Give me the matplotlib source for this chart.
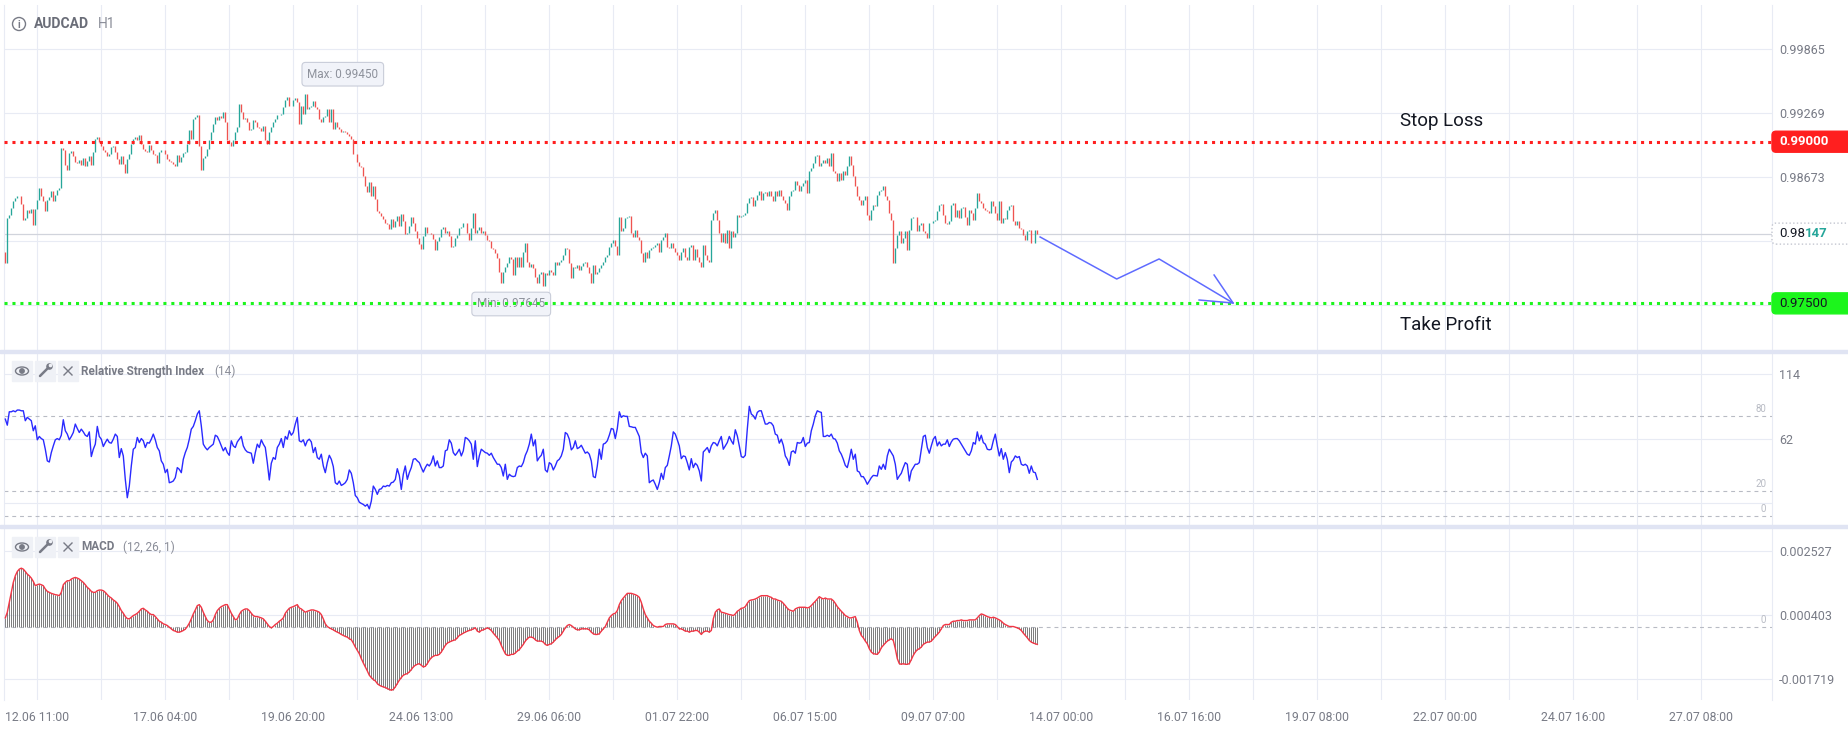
import numpy as np
import matplotlib
matplotlib.use("Agg")
import matplotlib.pyplot as plt
from matplotlib.patches import FancyBboxPatch, Rectangle, Circle, Ellipse
from matplotlib.lines import Line2D
from matplotlib.transforms import IdentityTransform

plt.rcParams['font.family'] = ['Roboto', 'DejaVu Sans']

# ---------------- data ----------------
symbol = "AUDCAD"
timeframe = "H1"
rsi_title = "Relative Strength Index"
rsi_params = "(14)"
macd_title = "MACD"
macd_params = "(12, 26, 1)"

first_open = 0.97978
closes = [
    0.97872, 0.98290, 0.98321, 0.98384, 0.98446, 0.98477, 0.98492, 0.98498, 0.98424, 0.98269,
    0.98290, 0.98368, 0.98337, 0.98374, 0.98229, 0.98374, 0.98461, 0.98570, 0.98492, 0.98446,
    0.98353, 0.98461, 0.98486, 0.98539, 0.98446, 0.98508, 0.98548, 0.98566, 0.98942, 0.98920,
    0.98787, 0.98740, 0.98895, 0.98911, 0.98864, 0.98808, 0.98802, 0.98827, 0.98780, 0.98849,
    0.98777, 0.98818, 0.98864, 0.98787, 0.98901, 0.99025, 0.99044, 0.98994, 0.98963, 0.98920,
    0.98901, 0.98870, 0.98889, 0.98951, 0.98963, 0.98901, 0.98839, 0.98796, 0.98870, 0.98793,
    0.98709, 0.98839, 0.98889, 0.98979, 0.99025, 0.99047, 0.99013, 0.99059, 0.98982, 0.98932,
    0.98917, 0.98901, 0.98966, 0.98920, 0.98889, 0.98880, 0.98802, 0.98901, 0.98920, 0.98926,
    0.98886, 0.98839, 0.98821, 0.98808, 0.98796, 0.98777, 0.98873, 0.98811, 0.98858, 0.98892,
    0.98907, 0.98982, 0.99106, 0.99025, 0.99214, 0.99230, 0.99248, 0.98957, 0.98740, 0.98845,
    0.98870, 0.98932, 0.99013, 0.99093, 0.99168, 0.99230, 0.99199, 0.99242, 0.99217, 0.99273,
    0.99180, 0.99013, 0.98994, 0.98963, 0.99013, 0.99087, 0.99137, 0.99354, 0.99273, 0.99211,
    0.99217, 0.99180, 0.99106, 0.99118, 0.99199, 0.99180, 0.99137, 0.99131, 0.99103, 0.99149,
    0.99013, 0.98982, 0.99087, 0.99137, 0.99183, 0.99214, 0.99245, 0.99248, 0.99261, 0.99323,
    0.99385, 0.99416, 0.99335, 0.99329, 0.99385, 0.99403, 0.99366, 0.99168, 0.99335, 0.99261,
    0.99441, 0.99304, 0.99323, 0.99335, 0.99382, 0.99323, 0.99304, 0.99211, 0.99180, 0.99230,
    0.99236, 0.99304, 0.99180, 0.99304, 0.99118, 0.99180, 0.99134, 0.99118, 0.99087, 0.99103,
    0.99087, 0.99072, 0.99056, 0.99025, 0.98889, 0.98886, 0.98808, 0.98777, 0.98762, 0.98684,
    0.98591, 0.98529, 0.98622, 0.98498, 0.98585, 0.98467, 0.98359, 0.98343, 0.98312, 0.98281,
    0.98250, 0.98235, 0.98188, 0.98281, 0.98204, 0.98260, 0.98312, 0.98219, 0.98331, 0.98266,
    0.98142, 0.98157, 0.98222, 0.98300, 0.98250, 0.98173, 0.98111, 0.98049, 0.98002, 0.98126,
    0.98207, 0.98157, 0.98151, 0.98142, 0.98095, 0.97996, 0.98083, 0.98114, 0.98191, 0.98207,
    0.98157, 0.98173, 0.98126, 0.98027, 0.98033, 0.98105, 0.98136, 0.98198, 0.98213, 0.98244,
    0.98250, 0.98151, 0.98089, 0.98198, 0.98337, 0.98151, 0.98182, 0.98213, 0.98151, 0.98173,
    0.98136, 0.98089, 0.98083, 0.98012, 0.98002, 0.97965, 0.97919, 0.97795, 0.97686, 0.97795,
    0.97841, 0.97872, 0.97934, 0.97909, 0.97764, 0.97934, 0.97841, 0.97934, 0.97841, 0.97981,
    0.98058, 0.97888, 0.97841, 0.97866, 0.97826, 0.97748, 0.97686, 0.97773, 0.97795, 0.97661,
    0.97779, 0.97764, 0.97810, 0.97795, 0.97764, 0.97888, 0.97857, 0.97888, 0.97903, 0.97950,
    0.98012, 0.98002, 0.97872, 0.97733, 0.97841, 0.97826, 0.97857, 0.97810, 0.97847, 0.97872,
    0.97888, 0.97841, 0.97779, 0.97686, 0.97857, 0.97773, 0.97795, 0.97826, 0.97857, 0.97888,
    0.97934, 0.97950, 0.98027, 0.98058, 0.98089, 0.98033, 0.97950, 0.98306, 0.98167, 0.98198,
    0.98291, 0.98306, 0.98312, 0.98151, 0.98120, 0.98182, 0.98120, 0.98089, 0.97965, 0.97888,
    0.97981, 0.97919, 0.97996, 0.98012, 0.98027, 0.98043, 0.98058, 0.97981, 0.98089, 0.98120,
    0.98151, 0.98027, 0.98012, 0.98058, 0.98012, 0.97981, 0.97950, 0.97903, 0.97981, 0.98012,
    0.97934, 0.97903, 0.98027, 0.98043, 0.97903, 0.98002, 0.97934, 0.97888, 0.97841, 0.98043,
    0.97950, 0.97903, 0.97888, 0.98275, 0.98337, 0.98368, 0.98275, 0.98151, 0.98074, 0.98151,
    0.98058, 0.98182, 0.98012, 0.98167, 0.98120, 0.98151, 0.98321, 0.98306, 0.98312, 0.98321,
    0.98337, 0.98430, 0.98477, 0.98483, 0.98399, 0.98461, 0.98508, 0.98539, 0.98461, 0.98523,
    0.98529, 0.98492, 0.98539, 0.98492, 0.98446, 0.98539, 0.98492, 0.98554, 0.98492, 0.98461,
    0.98430, 0.98368, 0.98492, 0.98539, 0.98554, 0.98631, 0.98601, 0.98539, 0.98585, 0.98616,
    0.98647, 0.98523, 0.98724, 0.98755, 0.98802, 0.98864, 0.98880, 0.98771, 0.98802, 0.98833,
    0.98802, 0.98849, 0.98771, 0.98895, 0.98724, 0.98709, 0.98631, 0.98709, 0.98647, 0.98724,
    0.98694, 0.98771, 0.98864, 0.98787, 0.98678, 0.98585, 0.98492, 0.98461, 0.98415, 0.98461,
    0.98492, 0.98321, 0.98275, 0.98368, 0.98415, 0.98399, 0.98508, 0.98539, 0.98554, 0.98585,
    0.98492, 0.98461, 0.98337, 0.98275, 0.97872, 0.98012, 0.98136, 0.98167, 0.98058, 0.98105,
    0.98167, 0.97996, 0.98182, 0.98291, 0.98300, 0.98306, 0.98167, 0.98229, 0.98244, 0.98167,
    0.98151, 0.98105, 0.98244, 0.98250, 0.98260, 0.98269, 0.98353, 0.98415, 0.98424, 0.98321,
    0.98244, 0.98238, 0.98260, 0.98415, 0.98430, 0.98306, 0.98368, 0.98291, 0.98384, 0.98393,
    0.98306, 0.98229, 0.98368, 0.98337, 0.98275, 0.98384, 0.98523, 0.98446, 0.98430, 0.98384,
    0.98368, 0.98353, 0.98337, 0.98446, 0.98399, 0.98337, 0.98275, 0.98446, 0.98244, 0.98291,
    0.98281, 0.98368, 0.98399, 0.98415, 0.98260, 0.98229, 0.98260, 0.98198, 0.98188, 0.98136,
    0.98089, 0.98167, 0.98182, 0.98058, 0.98064, 0.98182, 0.98147,
]

rsi_values = [
    77.9, 73.0, 83.8, 83.8, 84.6, 83.8, 85.2, 85.2, 84.6, 84.6,
    76.6, 79.3, 77.9, 76.6, 68.5, 72.5, 61.2, 63.9, 62.2, 61.2,
    53.6, 44.2, 43.3, 50.9, 56.3, 61.2, 62.2, 61.2, 64.9, 77.4,
    68.5, 65.8, 61.2, 63.9, 67.1, 73.9, 70.3, 67.1, 69.8, 67.6,
    64.9, 63.9, 67.6, 47.7, 53.6, 57.7, 72.0, 63.9, 61.7, 55.8,
    59.0, 61.7, 59.0, 58.5, 61.7, 65.8, 63.9, 46.9, 54.1, 48.2,
    29.3, 14.5, 23.9, 40.1, 53.6, 55.0, 63.1, 59.0, 62.2, 60.4,
    55.0, 59.0, 58.5, 61.7, 65.8, 61.2, 55.0, 52.3, 44.2, 41.5,
    34.7, 37.4, 26.6, 27.1, 28.0, 30.7, 38.8, 37.4, 34.7, 45.5,
    50.9, 55.0, 61.7, 69.8, 72.0, 76.6, 82.0, 84.6, 72.5, 57.7,
    55.0, 53.1, 55.0, 56.3, 57.7, 64.9, 63.9, 60.4, 56.3, 52.3,
    55.0, 50.9, 48.7, 60.4, 56.3, 55.0, 59.5, 61.7, 63.9, 56.3,
    53.1, 51.4, 50.9, 50.4, 42.3, 50.9, 57.7, 55.0, 61.2, 57.7,
    55.0, 42.8, 28.8, 42.3, 46.9, 45.5, 55.0, 57.7, 62.2, 55.0,
    63.9, 61.7, 68.5, 64.9, 67.1, 73.9, 79.3, 60.4, 59.5, 61.2,
    56.3, 60.4, 61.7, 59.5, 50.9, 55.0, 46.9, 45.5, 49.6, 40.1,
    34.7, 42.8, 48.7, 45.5, 39.6, 26.6, 25.3, 28.0, 24.4, 25.3,
    26.6, 29.3, 36.9, 34.2, 26.6, 16.3, 14.5, 10.9, 9.9, 9.1,
    7.7, 9.1, 5.5, 11.7, 23.9, 21.2, 17.2, 21.2, 21.7, 23.9,
    23.4, 24.4, 23.9, 26.6, 27.1, 29.3, 37.9, 32.5, 21.2, 33.4,
    40.1, 29.3, 34.7, 38.8, 45.5, 46.0, 44.2, 42.8, 38.8, 35.2,
    38.8, 41.5, 40.1, 42.8, 48.2, 40.1, 44.2, 38.8, 38.8, 40.1,
    52.3, 53.1, 61.2, 58.5, 50.9, 48.7, 50.9, 53.6, 48.2, 52.3,
    63.1, 62.2, 60.4, 57.7, 45.5, 60.4, 39.6, 48.2, 53.6, 52.3,
    50.9, 50.4, 48.7, 50.4, 46.9, 44.2, 41.5, 41.5, 38.8, 32.0,
    41.5, 29.3, 33.4, 32.0, 31.5, 32.0, 38.8, 40.1,
    39.6, 42.8, 48.7, 52.3, 57.7, 65.8, 56.3, 61.2, 44.2, 46.9,
    48.7, 53.6, 36.9, 35.2, 42.8, 41.5, 36.9, 40.1, 44.2, 45.5,
    48.2, 53.6, 67.1, 65.8, 61.7, 53.1, 55.0, 60.4, 54.1, 55.0,
    56.8, 53.6, 50.4, 51.4, 49.6, 44.2, 31.5, 30.7, 40.1, 53.6,
    45.5, 57.7, 58.5, 60.4, 64.9, 70.3, 69.8, 62.2, 70.3, 83.8,
    79.3, 80.6, 80.1, 80.1, 72.0, 71.7, 71.2, 71.2, 67.6, 63.9,
    50.9, 46.9, 50.4, 48.2, 26.6, 28.0, 28.8, 25.3, 21.2, 26.6,
    34.2, 29.3, 38.8, 40.6, 48.2, 56.3, 67.6, 65.8, 61.2, 56.3,
    46.0, 48.2, 47.7, 42.8, 36.9, 46.0, 38.8, 42.3, 40.6, 36.1,
    28.0, 51.4, 53.1, 55.0, 50.9, 56.3, 59.0, 58.5, 56.3, 60.4,
    63.9, 53.6, 56.3, 59.0, 63.9, 60.4, 57.7, 69.3, 64.4, 56.3,
    47.7, 46.9, 48.7, 69.8, 88.2, 82.0, 80.6, 77.9, 83.3, 84.6,
    84.6, 79.3, 73.9, 73.9, 75.2, 74.7, 72.5, 65.8, 64.9, 58.5,
    61.7, 56.8, 48.2, 45.5, 40.6, 51.4, 52.3, 50.4, 59.0, 58.5,
    59.0, 63.1, 55.8, 58.5, 59.0, 68.5, 73.9, 80.6, 84.6, 83.8,
    83.3, 63.9, 63.9, 64.9, 63.9, 65.8, 62.2, 61.7, 58.5, 52.3,
    49.6, 45.5, 40.6, 38.8, 45.5, 53.6, 45.5, 49.6, 36.1, 35.2,
    31.5, 31.5, 28.8, 25.3, 28.0, 30.7, 32.5, 32.3, 32.0, 40.1,
    37.4, 41.5, 37.4, 48.2, 53.6, 50.9, 48.2, 41.5, 29.3, 32.0,
    34.2, 38.8, 42.8, 41.5, 28.0, 36.1, 38.8, 41.5, 41.5, 42.8,
    53.6, 63.9, 64.9, 55.0, 50.4, 56.3, 61.7, 63.9, 56.3, 59.5,
    56.3, 57.7, 57.7, 61.2, 55.8, 59.5, 61.7, 62.2, 62.2, 60.4,
    57.7, 55.0, 52.3, 49.6, 48.7, 52.3, 59.0, 57.7, 67.6, 60.4,
    64.9, 59.0, 57.7, 53.6, 53.1, 53.6, 60.4, 65.8, 56.3, 48.2,
    54.1, 45.5, 50.9, 45.5, 34.7, 43.3, 45.0, 48.2, 46.9, 47.7,
    41.5, 40.6, 41.5, 40.1, 34.2, 40.1, 35.2, 34.7, 29.3,
]

# MACD values in millionths (1e-6)
macd_micro = [
    308, 495, 825, 1155, 1485, 1705, 1848, 1925, 1958, 1925,
    1848, 1760, 1705, 1628, 1518, 1375, 1408, 1430, 1408, 1375,
    1265, 1188, 1155, 1122, 1100, 1078, 1067, 1045, 1155, 1408,
    1485, 1540, 1540, 1595, 1628, 1650, 1628, 1595, 1540, 1485,
    1408, 1320, 1265, 1188, 1155, 1155, 1210, 1232, 1232, 1210,
    1155, 1078, 1012, 968, 902, 858, 792, 682, 550, 462,
    352, 286, 275, 330, 385, 418, 462, 528, 605, 627,
    572, 528, 462, 418, 418, 352, 275, 198, 165, 110,
    88, 55, 0, -55, -110, -132, -165, -165, -143, -110,
    -66, 22, 132, 275, 440, 572, 715, 748, 660, 495,
    352, 220, 165, 165, 242, 418, 550, 627, 682, 715,
    748, 748, 605, 462, 352, 242, 275, 418, 528, 572,
    605, 605, 550, 462, 385, 352, 352, 330, 308, 275,
    198, 110, 22, -22, 22, 88, 132, 198, 242, 308,
    462, 550, 627, 660, 682, 715, 748, 638, 605, 550,
    495, 528, 550, 572, 572, 550, 528, 495, 418, 275,
    110, 22, -22, -55, -88, -132, -165, -198, -242, -275,
    -308, -330, -385, -418, -528, -660, -770, -880, -1045, -1188,
    -1320, -1452, -1595, -1672, -1738, -1782, -1870, -1925, -1958, -1980,
    -2002, -2035, -2068, -2090, -2068, -1980, -1870, -1760, -1672, -1595,
    -1562, -1540, -1485, -1408, -1320, -1265, -1232, -1210, -1265, -1320,
    -1298, -1210, -1100, -1012, -968, -935, -935, -902, -825, -715,
    -605, -528, -495, -462, -440, -418, -352, -275, -242, -198,
    -165, -132, -110, -88, -55, -22, -132, -165, -110, -88,
    -55, -22, -55, -110, -198, -275, -352, -440, -605, -748,
    -880, -935, -935, -902, -902, -858, -792, -748,
    -660, -572, -462, -385, -330, -330, -352, -418, -462, -462,
    -462, -495, -572, -605, -572, -550, -495, -418, -352, -308,
    -242, -132, -22, 55, 88, 55, 0, -55, -88, -88,
    -55, -55, -55, -55, -88, -165, -220, -242, -242, -220,
    -132, -55, 22, 165, 308, 385, 440, 462, 550, 748,
    880, 968, 1045, 1122, 1122, 1122, 1100, 1078, 1045, 990,
    825, 605, 418, 308, 198, 132, 55, 22, 0, 22,
    22, 22, 88, 110, 110, 110, 110, 88, 22, -55,
    -55, -88, -132, -132, -165, -132, -132, -110, -110, -165,
    -242, -165, -132, -132, -165, -110, 275, 495, 572, 605,
    495, 484, 462, 440, 418, 407, 385, 440, 528, 572,
    627, 638, 682, 792, 880, 902, 913, 935, 968, 1012,
    1045, 1045, 1045, 1045, 1012, 990, 935, 935, 902, 880,
    858, 792, 715, 627, 572, 550, 528, 605, 638, 660,
    660, 660, 660, 638, 660, 715, 792, 858, 935, 1012,
    968, 935, 968, 935, 935, 935, 880, 792, 682, 605,
    528, 462, 385, 352, 308, 308, 330, 352, 165, -110,
    -275, -352, -462, -550, -715, -825, -880, -891, -902, -825,
    -682, -605, -528, -462, -418, -385, -440, -715, -1045, -1210,
    -1232, -1210, -1232, -1232, -1210, -1078, -935, -825, -748, -715,
    -660, -572, -528, -495, -495, -462, -385, -308, -242, -165,
    -55, 55, 88, 88, 88, 165, 198, 198, 220, 220,
    242, 220, 220, 220, 242, 242, 242, 242, 308, 385,
    440, 418, 385, 352, 330, 308, 330, 308, 275, 242,
    198, 132, 88, 55, 22, 22, 22, 0, -22, -55,
    -110, -198, -275, -352, -440, -495, -528, -550, -572,
]

price_ticks = [0.99865, 0.99269, 0.98673, 0.98077, 0.97481]
price_tick_labels = ["0.99865", "0.99269", "0.98673", "", ""]   # last two sit under the price tags
rsi_ticks = [114, 62, 10]
rsi_tick_labels = ["114", "62", ""]
rsi_levels = [80, 20, 0]
macd_ticks = [0.002527, 0.000403, -0.001719]
macd_levels = [0]
time_labels = ["12.06 11:00", "17.06 04:00", "19.06 20:00", "24.06 13:00",
               "29.06 06:00", "01.07 22:00", "06.07 15:00", "09.07 07:00",
               "14.07 00:00", "16.07 16:00", "19.07 08:00", "22.07 00:00",
               "24.07 16:00", "27.07 08:00"]
label_bars = [16, 80, 144, 208, 272, 336, 400, 464, 528, 592, 656, 720, 784, 848]

stop_loss = 0.99000
take_profit = 0.97500
last_price = 0.98147
max_label = "Max: 0.99450"
min_label = "Min: 0.97645"
forecast_bars = [517.4, 555.7, 576.9, 613.9]
forecast_prices = [0.98116, 0.97726, 0.97912, 0.97503]
wing_bars = [604.4, 596.9]
wing_prices = [0.97763, 0.97531]

# ---------------- layout ----------------
W, H = 1848, 729
fig = plt.figure(figsize=(W / 100, H / 100), dpi=100)
fig.patch.set_facecolor("white")
ident = IdentityTransform()


def frac_rect(x0, y0, x1, y1):
    return [x0 / W, 1 - y1 / H, (x1 - x0) / W, (y1 - y0) / H]


ax_p = fig.add_axes(frac_rect(4, 5, 1772, 350))
ax_r = fig.add_axes(frac_rect(4, 353, 1772, 525))
ax_m = fig.add_axes(frac_rect(4, 528, 1772, 700))

GRID = "#e8ebf4"
AXT = "#787b86"
N = min(len(closes), len(rsi_values), len(macd_micro))
x = np.arange(N)
grid_bars = list(range(label_bars[0], label_bars[-1] + 1, 32))

for ax in (ax_p, ax_r, ax_m):
    ax.set_xlim(-0.65, 883.35)
    ax.set_facecolor("white")
    for s in ("top", "bottom"):
        ax.spines[s].set_visible(False)
    for s in ("left", "right"):
        ax.spines[s].set_color(GRID)
        ax.spines[s].set_linewidth(0.8)
    ax.yaxis.tick_right()
    ax.tick_params(axis="y", length=0, pad=5, labelsize=9, labelcolor=AXT)
    ax.tick_params(axis="x", length=0)
    ax.set_xticks([])
    for b in grid_bars:
        ax.axvline(b, color=GRID, lw=0.8, zorder=0)

# ---------------- price panel ----------------
ax_p.set_ylim(0.97067, 1.00269)
ax_p.set_yticks(price_ticks)
ax_p.set_yticklabels(price_tick_labels)
for v in price_ticks:
    ax_p.axhline(v, color=GRID, lw=0.8, zorder=0)

c = np.array(closes[:N])
o = np.concatenate([[first_open], c[:-1]])
up = c >= o
lo = np.minimum(o, c)
hi = np.maximum(o, c)
extra = np.maximum(0, 0.00004 - (hi - lo)) / 2
lo = lo - extra
hi = hi + extra
ax_p.vlines(x[up], lo[up], hi[up], color="#26a69a", lw=0.95, zorder=3)
ax_p.vlines(x[~up], lo[~up], hi[~up], color="#ef5350", lw=0.95, zorder=3)

ax_p.axhline(last_price, color="#d1d4dc", lw=0.9, zorder=1)
ax_p.axhline(stop_loss, color="#ff1f1f", lw=2.2, ls=(0, (1, 1.6)), zorder=4)
ax_p.axhline(take_profit, color="#1cf51c", lw=2.2, ls=(0, (1, 1.6)), zorder=4)

imax = int(np.argmax(hi))
imin = int(np.argmin(lo))
bubble = dict(boxstyle="round,pad=0.45,rounding_size=0.3", fc="#f1f3f9", ec="#c9cdd9", lw=0.8)
ax_p.annotate(max_label, xy=(imax, hi[imax]), xytext=(2, 20), textcoords="offset pixels",
              ha="left", va="center", fontsize=8.5, color="#8e929c", bbox=bubble, zorder=5)
ax_p.annotate(min_label, xy=(imin, lo[imin]), xytext=(2, -18), textcoords="offset pixels",
              ha="right", va="center", fontsize=8.5, color="#8e929c", bbox=bubble, zorder=2)

ax_p.plot(forecast_bars, forecast_prices, color="#5f6bff", lw=1.1, zorder=4)
ax_p.plot([wing_bars[0], forecast_bars[-1], wing_bars[1]],
          [wing_prices[0], forecast_prices[-1], wing_prices[1]], color="#5f6bff", lw=1.1, zorder=4)

text_bar = 697.4
ax_p.annotate("Stop Loss", xy=(text_bar, stop_loss), xytext=(0, 21), textcoords="offset pixels",
              ha="left", va="center", fontsize=13.5, color="#131722")
ax_p.annotate("Take Profit", xy=(text_bar, take_profit), xytext=(0, -22), textcoords="offset pixels",
              ha="left", va="center", fontsize=13.5, color="#131722")

# ---------------- RSI panel ----------------
ax_r.set_ylim(-7.5, 131.2)
ax_r.set_yticks(rsi_ticks)
ax_r.set_yticklabels(rsi_tick_labels)
for v in rsi_ticks:
    ax_r.axhline(v, color=GRID, lw=0.8, zorder=0)
for lv in rsi_levels:
    ax_r.axhline(lv, color="#b8bbc4", lw=0.8, ls=(0, (3.5, 3.5)), zorder=1)
    ax_r.annotate(str(lv), xy=(1, lv), xycoords=("axes fraction", "data"), xytext=(-6, 7),
                  textcoords="offset pixels", ha="right", va="center", fontsize=7, color="#b8bbc4")
ax_r.plot(x, np.array(rsi_values[:N]), color="#2a2aff", lw=1.0, zorder=3)

# ---------------- MACD panel ----------------
macd = np.array(macd_micro[:N]) * 1e-6
ax_m.set_ylim(-0.002416, 0.003290)
ax_m.set_yticks(macd_ticks)
ax_m.set_yticklabels([f"{v:.6f}" for v in macd_ticks])
for v in macd_ticks:
    ax_m.axhline(v, color=GRID, lw=0.8, zorder=0)
for lv in macd_levels:
    ax_m.axhline(lv, color="#b8bbc4", lw=0.8, ls=(0, (3.5, 3.5)), zorder=1)
    ax_m.annotate(str(lv), xy=(1, lv), xycoords=("axes fraction", "data"), xytext=(-6, 7),
                  textcoords="offset pixels", ha="right", va="center", fontsize=7, color="#b8bbc4")
ax_m.vlines(x, 0, macd, color="#7b7b7b", lw=0.7, zorder=2)
ax_m.plot(x, macd, color="#f23645", lw=1.0, zorder=3)
ax_m.set_xticks(label_bars)
ax_m.set_xticklabels(time_labels, fontsize=8.8, color=AXT)
ax_m.tick_params(axis="x", length=0, pad=8)

# ---------------- separators ----------------
for ytop in (350, 525):
    fig.add_artist(Rectangle((0, H - ytop - 3), W, 3, transform=ident, color="#e0e4f3", zorder=5))


# ---------------- right-side price labels ----------------
def ypix(ax, v):
    return ax.transData.transform((0, v))[1]


def side_box(cy, fc, ec, ls="-"):
    fig.add_artist(FancyBboxPatch((1772, cy - 10.5), 100, 21,
                                  boxstyle="round,pad=0,rounding_size=4",
                                  fc=fc, ec=ec, lw=1, ls=ls, transform=ident, zorder=10))


cy = ypix(ax_p, stop_loss)
side_box(cy, "#ff1f1f", "#ff1f1f")
fig.text(1779 / W, cy / H, f"{stop_loss:.5f}", color="white", fontsize=9.5,
         fontweight="bold", va="center", ha="left", zorder=11)

cy = ypix(ax_p, take_profit)
side_box(cy, "#1cf51c", "#1cf51c")
fig.text(1779 / W, cy / H, f"{take_profit:.5f}", color="#131722", fontsize=9.5,
         va="center", ha="left", zorder=11)

cy = ypix(ax_p, last_price)
side_box(cy, "white", "#c3c6d0", ls=":")
lp_text = f"{last_price:.5f}"
t1 = fig.text(1779 / W, cy / H, lp_text[:4], color="#131722", fontsize=9.5,
              va="center", ha="left", zorder=11)
renderer = fig.canvas.get_renderer()
bb = t1.get_window_extent(renderer=renderer)
fig.text(bb.x1 / W, cy / H, lp_text[4:], color="#26a69a", fontsize=9.5, fontweight="bold",
         va="center", ha="left", zorder=11)


# ---------------- headers ----------------
def ft(px, py, s, **kw):
    return fig.text(px / W, 1 - py / H, s, va="center", ha="left", **kw)


fig.add_artist(Circle((19, H - 24), 6.5, transform=ident, fill=False, ec=AXT, lw=1.0, zorder=6))
fig.text(19 / W, 1 - 24.5 / H, "i", ha="center", va="center", fontsize=7.5, color=AXT, fontweight="bold")
ft(34, 24, symbol, fontsize=10, color="#6a6d78", fontweight="bold")
ft(98, 24, timeframe, fontsize=10, color="#8a8d98")


def icons(yc):
    for x0 in (12, 35, 58):
        fig.add_artist(Rectangle((x0, H - yc - 10), 20, 20, transform=ident,
                                 color="#eff1f6", zorder=6))
    fig.add_artist(Ellipse((22, H - yc), 13, 8, transform=ident, fill=False, ec=AXT, lw=1.0, zorder=7))
    fig.add_artist(Circle((22, H - yc), 2.2, transform=ident, color=AXT, zorder=7))
    fig.add_artist(Line2D([40, 48], [H - yc - 5, H - yc + 3], transform=ident, color=AXT,
                          lw=1.8, solid_capstyle="round", zorder=7))
    fig.add_artist(Circle((49.5, H - yc + 4.5), 2.6, transform=ident, color=AXT, zorder=7))
    fig.add_artist(Circle((50.5, H - yc + 5.5), 1.1, transform=ident, color="#eff1f6", zorder=8))
    fig.add_artist(Line2D([64, 72], [H - yc - 4, H - yc + 4], transform=ident, color=AXT, lw=1.0, zorder=7))
    fig.add_artist(Line2D([64, 72], [H - yc + 4, H - yc - 4], transform=ident, color=AXT, lw=1.0, zorder=7))


icons(371)
ft(81, 371, rsi_title, fontsize=8.5, color=AXT, fontweight="bold")
ft(214, 371, rsi_params, fontsize=8.5, color="#8a8d98")
icons(547)
ft(81, 547, macd_title, fontsize=8.5, color=AXT, fontweight="bold")
ft(123, 547, macd_params, fontsize=8.5, color="#8a8d98")

fig.savefig("out.png", dpi=100, facecolor="white")
